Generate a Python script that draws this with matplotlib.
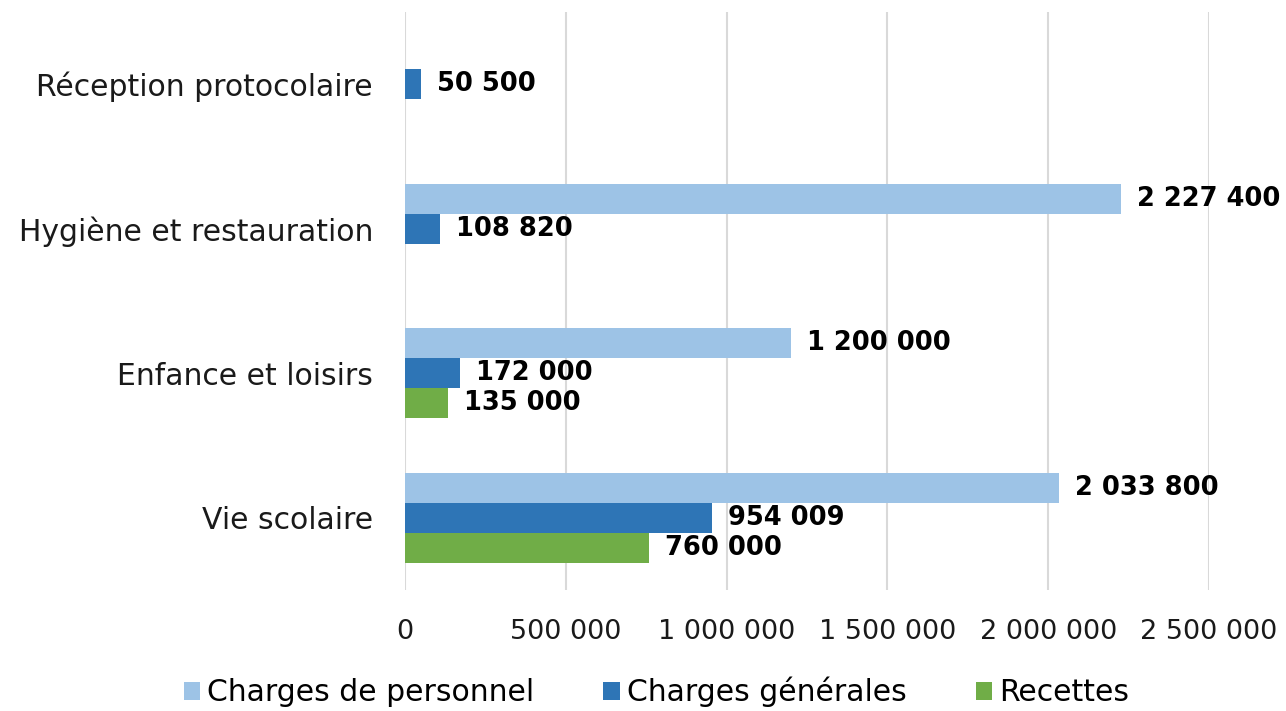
import matplotlib
matplotlib.use("Agg")
import matplotlib.pyplot as plt
import numpy as np
from matplotlib.patches import Patch

categories = ["Vie scolaire", "Enfance et loisirs", "Hygiène et restauration", "Réception protocolaire"]
series_names = ["Charges de personnel", "Charges générales", "Recettes"]
personnel = [2033800, 1200000, 2227400, None]
generales = [954009, 172000, 108820, 50500]
recettes = [760000, 135000, None, None]
colors = ["#9DC3E6", "#2E75B6", "#70AD47"]
xticks = [0, 500000, 1000000, 1500000, 2000000, 2500000]

plt.rcParams['font.family'] = ['DejaVu Sans']

def fmt(v):
    return f"{int(v):,}".replace(",", " ")

fig = plt.figure(figsize=(12.86, 7.11), dpi=100)
ax = fig.add_axes([405/1286, 1-590/711, (1209-405)/1286, (590-12)/711])

y = np.arange(len(categories))
h = 0.207
offsets = [h, 0, -h]
for vals, off, col in zip([personnel, generales, recettes], offsets, colors):
    for i, v in enumerate(vals):
        if v is None:
            continue
        ax.barh(y[i] + off, v, height=h, color=col, zorder=3)
        ax.annotate(fmt(v), (v, y[i] + off), xytext=(16, 0), textcoords="offset pixels",
                    va="center", ha="left", fontsize=18.5, fontweight="bold", color="black",
                    annotation_clip=False)

ax.set_xlim(0, 2500000)
ax.set_ylim(-0.5, 3.5)
ax.set_xticks(xticks)
ax.set_xticklabels([fmt(t) for t in xticks], fontsize=19.5, color="#1a1a1a")
ax.set_yticks(y)
ax.set_yticklabels(categories, fontsize=21.5, color="#1a1a1a")
ax.tick_params(axis="both", length=0)
ax.tick_params(axis="x", pad=21)
ax.tick_params(axis="y", pad=23)
ax.grid(axis="x", color="#D9D9D9", linewidth=1.5, zorder=0)
for s in ax.spines.values():
    s.set_visible(False)

handles = [Patch(facecolor=c, edgecolor="none") for c in colors]
fig.legend(handles, series_names, loc="center", bbox_to_anchor=(0.5105, 1-692/711), ncol=3,
           frameon=False, fontsize=21.5, handlelength=0.55, handleheight=0.55,
           handletextpad=0.25, columnspacing=2.3)

fig.savefig("out.png", dpi=100)
